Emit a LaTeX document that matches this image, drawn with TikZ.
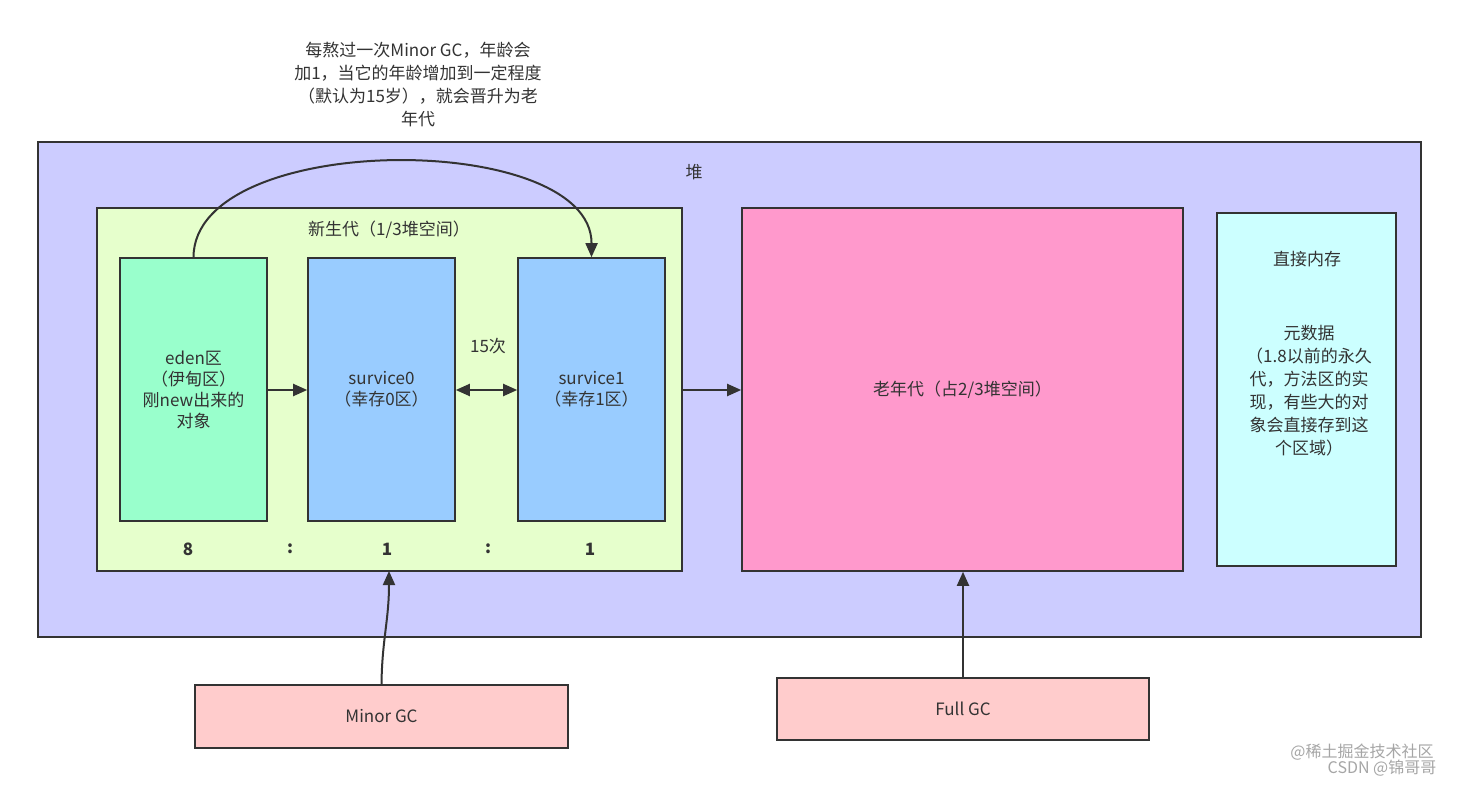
\documentclass[tikz,border=0pt]{standalone}
\usepackage{fontspec}
\setmainfont{Noto Sans CJK SC}
\usetikzlibrary{arrows.meta}
\definecolor{heap}{HTML}{CCCCFF}
\definecolor{young}{HTML}{E6FFCC}
\definecolor{eden}{HTML}{99FFCC}
\definecolor{surv}{HTML}{99CCFF}
\definecolor{old}{HTML}{FF99CC}
\definecolor{direct}{HTML}{CCFFFF}
\definecolor{gc}{HTML}{FFCCCC}
\definecolor{ln}{HTML}{333333}
\begin{document}
\begin{tikzpicture}[x=1pt,y=-1pt,font=\fontsize{17}{21}\selectfont,
 box/.style={draw=ln,line width=1.6pt},
 lbl/.style={align=center,text=ln},
 arr/.style={draw=ln,line width=2pt,-{Triangle[length=14pt,width=12pt]}}]
\useasboundingbox[fill=white] (0,0) rectangle (1464,786);
\draw[box,fill=heap] (38,142) rectangle (1421,637);
\node[lbl] (heapl) at (694,172) {堆};
\draw[box,fill=young] (97,208) rectangle (682,571);
\node[lbl] (youngl) at (389,230) {新生代（1/3堆空间）};
\node[box,fill=eden,minimum width=147pt,minimum height=263pt,lbl,inner sep=0pt] (eden) at (193.5,389.5) {eden区\\（伊甸区）\\刚new出来的\\对象};
\node[box,fill=surv,minimum width=147pt,minimum height=263pt,lbl,inner sep=0pt] (s0) at (381.5,389.5) {survice0\\（幸存0区）};
\node[box,fill=surv,minimum width=147pt,minimum height=263pt,lbl,inner sep=0pt] (s1) at (591.5,389.5) {survice1\\（幸存1区）};
\node[lbl] (t15) at (488,346) {15次};
\node[lbl,font=\fontsize{17}{21}\selectfont\bfseries] (r1) at (188,549) {8};
\node[lbl,font=\fontsize{17}{21}\selectfont\bfseries] (r2) at (290,549) {:};
\node[lbl,font=\fontsize{17}{21}\selectfont\bfseries] (r3) at (387,549) {1};
\node[lbl,font=\fontsize{17}{21}\selectfont\bfseries] (r4) at (488,549) {:};
\node[lbl,font=\fontsize{17}{21}\selectfont\bfseries] (r5) at (590,549) {1};
\node[box,fill=old,minimum width=441pt,minimum height=363pt,lbl,inner sep=0pt] (old) at (962.5,389.5) {老年代（占2/3堆空间）};
\node[box,fill=direct,minimum width=179pt,minimum height=353pt,inner sep=0pt] (dm) at (1306.5,389.5) {};
\node[lbl] (dmt) at (1307,259) {直接内存};
\node[lbl,font=\fontsize{17}{23}\selectfont] (dmb) at (1309,391) {元数据\\（1.8以前的永久\\代，方法区的实\\现，有些大的对\\象会直接存到这\\个区域）};
\node[box,fill=gc,minimum width=373pt,minimum height=63pt,lbl,inner sep=0pt] (minor) at (381.5,716.5) {Minor GC};
\node[box,fill=gc,minimum width=372pt,minimum height=62pt,lbl,inner sep=0pt] (full) at (963,709) {Full GC};
\node[lbl,font=\fontsize{17}{23}\selectfont] (note) at (418,84) {每熬过一次Minor GC，年龄会\\加1，当它的年龄增加到一定程度\\（默认为15岁），就会晋升为老\\年代};
\coordinate (ys) at (389,571);
\coordinate (yr) at (682,390);
\draw[arr] (eden.east |- 0,390) -- (s0.west |- 0,390);
\draw[draw=ln,line width=2pt,{Triangle[length=14pt,width=12pt]}-{Triangle[length=14pt,width=12pt]}] (s0.east |- 0,390) -- (s1.west |- 0,390);
\draw[arr] (yr) -- (old.west |- yr);
\draw[arr] (eden.north) .. controls (194,130) and (592,130) .. (s1.north);
\draw[arr] (minor.north) .. controls (382,640) and (389,620) .. (ys);
\draw[arr] (full.north) -- (old.south -| full.north);
\node[text=gray!70,font=\fontsize{16}{18}\selectfont] (wm1) at (1362,752) {@稀土掘金技术社区};
\node[text=gray!70,font=\fontsize{16}{18}\selectfont] (wm2) at (1382,768) {CSDN @锦哥哥};
\end{tikzpicture}
\end{document}
